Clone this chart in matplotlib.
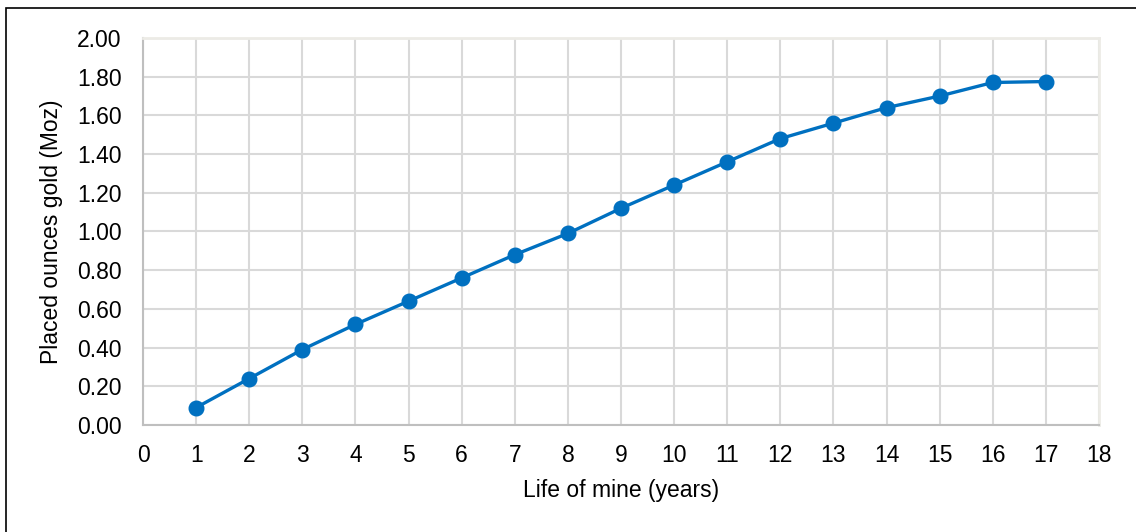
import matplotlib.pyplot as plt
from matplotlib.patches import Rectangle

plt.rcParams["font.family"] = ["Liberation Sans", "DejaVu Sans"]

years = [1, 2, 3, 4, 5, 6, 7, 8, 9, 10, 11, 12, 13, 14, 15, 16, 17]
ounces = [0.09, 0.24, 0.39, 0.52, 0.64, 0.76, 0.88, 0.99, 1.12, 1.24,
          1.36, 1.48, 1.56, 1.64, 1.70, 1.77, 1.775]

x_ticks = list(range(0, 19))
y_ticks = [0.0, 0.2, 0.4, 0.6, 0.8, 1.0, 1.2, 1.4, 1.6, 1.8, 2.0]

fig = plt.figure(figsize=(11.36, 5.32), dpi=100)
ax = fig.add_axes([0.1259, 0.2011, 0.8415, 0.7275])

ax.plot(years, ounces, color="#0070c0", linewidth=2.4, marker="o",
        markersize=10.5, zorder=3, solid_capstyle="round")

ax.set_xlim(0, 18)
ax.set_ylim(0, 2.0)
ax.set_xticks(x_ticks)
ax.set_yticks(y_ticks)
ax.set_yticklabels([f"{v:.2f}" for v in y_ticks])
ax.tick_params(length=0, labelsize=16.5, colors="black")
ax.tick_params(axis="y", pad=15.5)
ax.tick_params(axis="x", pad=14)
ax.grid(True, color="#d9d9d9", linewidth=1.5)
ax.set_axisbelow(True)

for side in ["top", "right"]:
    ax.spines[side].set_color("#ecebe6")
    ax.spines[side].set_linewidth(2)
for side in ["left", "bottom"]:
    ax.spines[side].set_color("#bfbfbf")
    ax.spines[side].set_linewidth(1.5)

ax.set_xlabel("Life of mine (years)", fontsize=16.5, labelpad=8)
ax.set_ylabel("Placed ounces gold (Moz)", fontsize=16.5, labelpad=10)

# outer frame around the chart
fig.patches.append(Rectangle((6 / 1136, -0.1), 1.2, 1 - 8 / 532 + 0.1,
                             transform=fig.transFigure, fill=False,
                             edgecolor="black", linewidth=1.2))

fig.savefig("out.png", dpi=100)
